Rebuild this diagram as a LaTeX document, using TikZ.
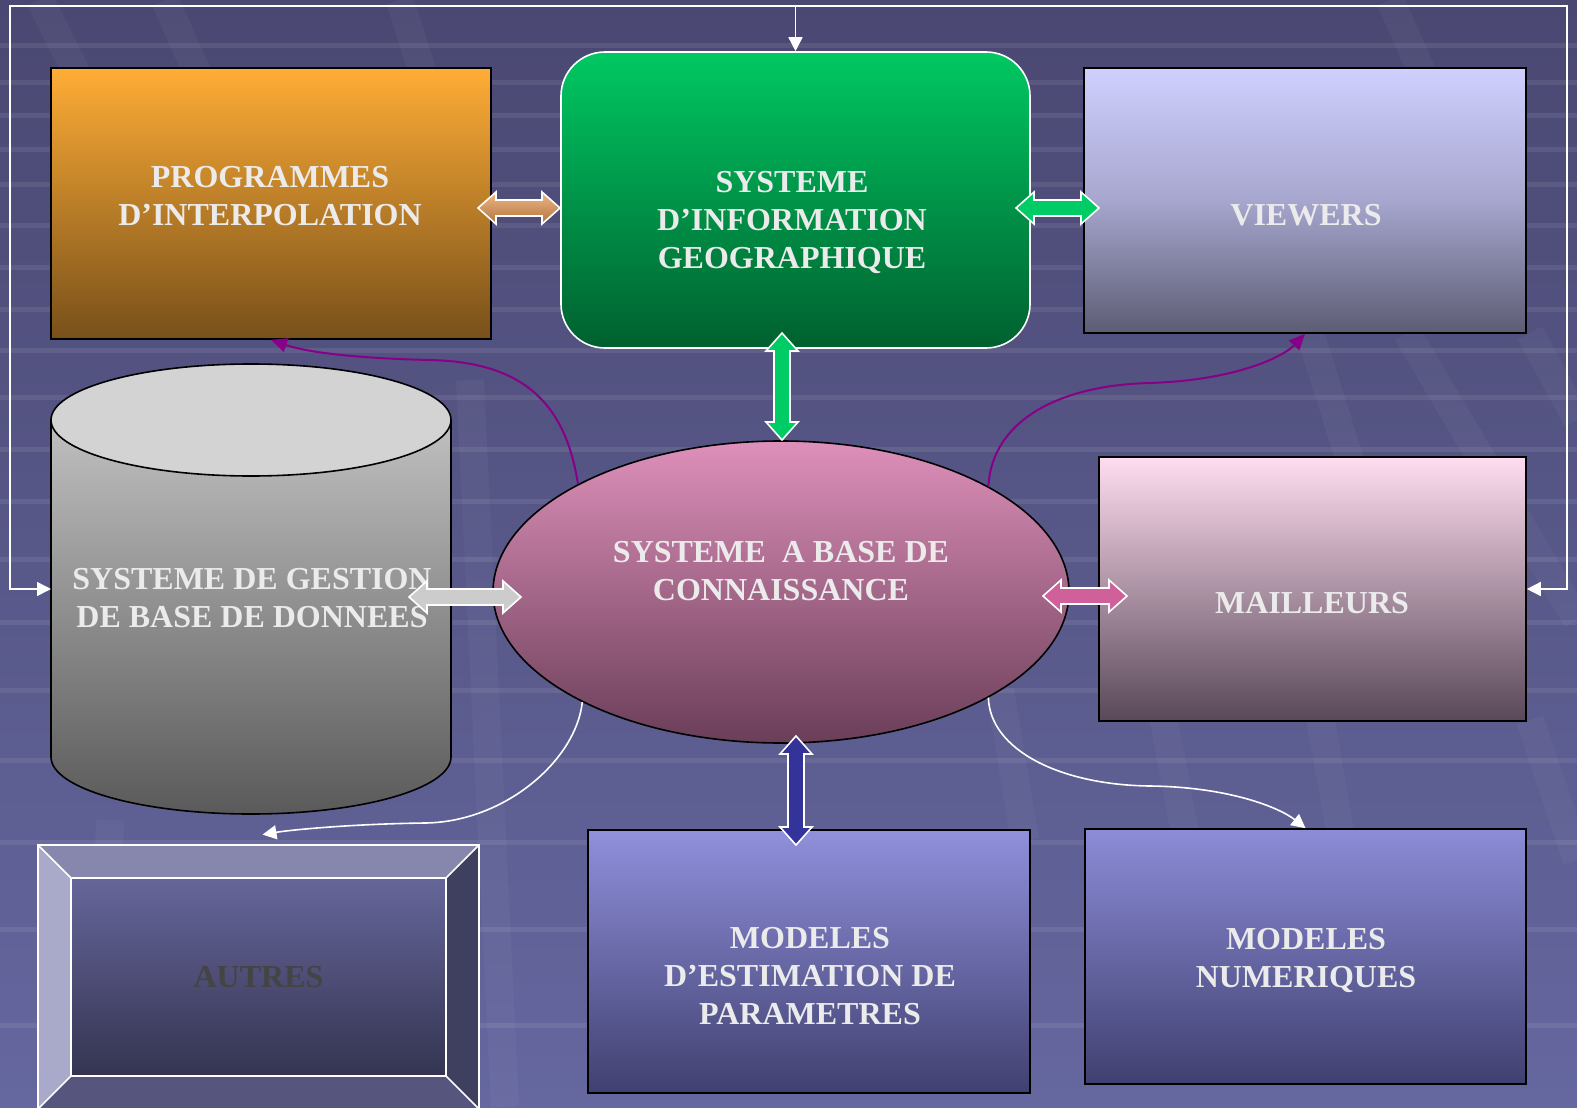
\documentclass[tikz,border=0pt]{standalone}
\usepackage{fontspec}
\setmainfont{Liberation Serif}
\usetikzlibrary{arrows.meta,shapes.geometric}
\definecolor{txt}{HTML}{EBEBEB}
\definecolor{bgtop}{HTML}{4A4872}
\definecolor{bgbot}{HTML}{65679F}
\definecolor{purp}{HTML}{880088}
\newcommand\hblk[4]{\path[#4] (#1,-#3) -- ++(18,16) -- ++(0,-8) -- ({#2-18},{-#3+8}) -- ++(0,8) -- (#2,-#3) -- ++(-18,-16) -- ++(0,8) -- ({#1+18},{-#3-8}) -- ++(0,-8) -- cycle;}
\newcommand\vblk[4]{\path[#4] (#1,-#2) -- ++(16,-18) -- ++(-8,0) -- ({#1+8},{-#3+18}) -- ++(8,0) -- (#1,-#3) -- ++(-16,18) -- ++(8,0) -- ({#1-8},{-#2-18}) -- ++(-8,0) -- cycle;}
\begin{document}
\begin{tikzpicture}[x=0.5pt,y=0.5pt,
  lbl/.style={text=txt,font=\fontsize{16}{19}\selectfont\bfseries,align=center,inner sep=0pt},
  boxn/.style={rectangle,draw=black,line width=0.8pt,inner sep=0pt},
  wline/.style={draw=white,line width=0.8pt},
  wtip/.style={-{Triangle[length=7pt,width=7pt]}},
  blk/.style={draw=white,line width=0.8pt,line join=miter},
  curvep/.style={draw=purp,line width=1pt,-{Triangle[length=8pt,width=7pt]}},
  curvew/.style={draw=white,line width=0.8pt,-{Triangle[length=7pt,width=7pt]}}]
\useasboundingbox (0,-1107) rectangle (1577,0);
\begin{scope}
\clip (0,-1107) rectangle (1577,0);
% background
\shade[top color=bgtop,bottom color=bgbot] (0,-1107) rectangle (1577,0);
\foreach \yy in {43,80,113,147,182,223,265,307,348,395,447,499,557,620,688,758,840,927,1023}
  \fill[white,opacity=0.08] (0,-\yy) rectangle (1577,{-\yy-5});
\foreach \a/\b/\c/\d in {40/0/130/180, 165/0/240/170, 400/0/425/80, 470/380/505/1107, 1390/0/1430/90, 1310/333/1400/620, 1407/333/1577/620, 1530/333/1577/420, 1000/690/1025/840, 1160/700/1190/860, 1317/700/1345/860, 1530/720/1577/860, 110/820/100/1107}
  \draw[white,opacity=0.035,line width=14pt] (\a,-\b) -- (\c,-\d);
% outer frame connector
\coordinate (lt) at (10,-6);
\coordinate (rt) at (1567,-6);
\coordinate (lb) at (10,-589);
\coordinate (rb) at (1567,-589);
\coordinate (tc) at (795.5,-6);
\coordinate (cylw) at (51,-589);
% boxes
\node[boxn,minimum width=220pt,minimum height=135.5pt,
  top color={rgb,255:red,255;green,173;blue,54},bottom color={rgb,255:red,119;green,80;blue,26}] (prog) at (271,-203.5) {};
\node[rectangle,rounded corners=22pt,draw=white,line width=0.8pt,minimum width=234.5pt,minimum height=148pt,inner sep=0pt,
  top color={rgb,255:red,0;green,200;blue,98},bottom color={rgb,255:red,0;green,96;blue,47}] (gis) at (795.5,-200) {};
\node[boxn,minimum width=221pt,minimum height=132.5pt,
  top color={rgb,255:red,208;green,208;blue,255},bottom color={rgb,255:red,92;green,92;blue,116},
  middle color={rgb,255:red,166;green,166;blue,206}] (view) at (1305,-200.5) {};
\node[boxn,minimum width=213.5pt,minimum height=132pt,
  top color={rgb,255:red,255;green,221;blue,240},bottom color={rgb,255:red,88;green,72;blue,88}] (mail) at (1312.5,-589) {};
\node[boxn,minimum width=221pt,minimum height=131.5pt,
  top color={rgb,255:red,144;green,144;blue,220},bottom color={rgb,255:red,64;green,64;blue,112}] (mest) at (809,-961.5) {};
\node[boxn,minimum width=220.5pt,minimum height=127.5pt,
  top color={rgb,255:red,140;green,140;blue,216},bottom color={rgb,255:red,64;green,64;blue,112}] (mnum) at (1305.5,-956.5) {};
% cylinder
\path[draw=black,line width=0.8pt,top color={rgb,255:red,192;green,192;blue,192},bottom color={rgb,255:red,90;green,90;blue,90}]
  (51,-420) -- (51,-757) arc[start angle=180,end angle=360,x radius=100pt,y radius=28.5pt] -- (451,-420) -- cycle;
\path[draw=black,line width=0.8pt,fill={rgb,255:red,211;green,211;blue,211}] (251,-420) ellipse[x radius=100pt,y radius=28pt];
\node[inner sep=0pt,minimum width=200pt,minimum height=225pt] (cyl) at (251,-589) {};
% ellipse
\node[ellipse,draw=black,line width=0.8pt,minimum width=288pt,minimum height=151pt,inner sep=0pt,
  top color={rgb,255:red,222;green,144;blue,186},bottom color={rgb,255:red,106;green,62;blue,88}] (sbc) at (781,-592) {};
% autres bevel
\fill[fill={rgb,255:red,135;green,135;blue,173}] (38,-845) -- (479,-845) -- (446,-878) -- (71,-878) -- cycle;
\fill[fill={rgb,255:red,169;green,169;blue,201}] (38,-845) -- (71,-878) -- (71,-1076) -- (38,-1109) -- cycle;
\fill[fill={rgb,255:red,63;green,63;blue,95}] (479,-845) -- (479,-1109) -- (446,-1076) -- (446,-878) -- cycle;
\fill[fill={rgb,255:red,85;green,85;blue,125}] (38,-1109) -- (71,-1076) -- (446,-1076) -- (479,-1109) -- cycle;
\shade[top color={rgb,255:red,102;green,102;blue,154},bottom color={rgb,255:red,52;green,52;blue,82}] (71,-1076) rectangle (446,-878);
\draw[wline] (38,-1109) rectangle (479,-845);
\draw[wline] (71,-1076) rectangle (446,-878);
\draw[wline] (38,-845) -- (71,-878) (479,-845) -- (446,-878) (38,-1109) -- (71,-1076) (479,-1109) -- (446,-1076);
\node[inner sep=0pt,minimum width=220.5pt,minimum height=132pt,text={rgb,255:red,68;green,68;blue,68},font=\fontsize{16}{19}\selectfont\bfseries] (aut) at (258.5,-977) {AUTRES};
% labels
\node[lbl] (tprog) at (270,-196) {PROGRAMMES\\D’INTERPOLATION};
\node[lbl] (tgis) at (792,-222) {SYSTEME\\D’INFORMATION\\GEOGRAPHIQUE};
\node[lbl] (tview) at (1306,-215) {VIEWERS};
\node[lbl] (tcyl) at (252,-598) {SYSTEME DE GESTION\\DE BASE DE DONNEES};
\node[lbl] (tsbc) at (781,-571) {SYSTEME~~A BASE DE\\CONNAISSANCE};
\node[lbl] (tmail) at (1312,-603) {MAILLEURS};
\node[lbl] (tmest) at (810,-976) {MODELES\\D’ESTIMATION DE\\PARAMETRES};
\node[lbl] (tmnum) at (1306,-960) {MODELES\\NUMERIQUES};
% frame connectors
\draw[wline,{Triangle[length=7pt,width=7pt]}-{Triangle[length=7pt,width=7pt]}] (cylw) -- (lb) -- (lt) -- (rt) -- (rb) -- (mail.east);
\draw[wline,wtip] (tc) -- (gis.north);
% curves
\draw[curvep] (sbc.152) .. controls (565,-400) and (520,-362) .. (430,-360) .. controls (340,-358) and (300,-350) .. (prog.south);
\draw[curvep] (sbc.27) .. controls (992,-420) and (1060,-385) .. (1150,-383) .. controls (1240,-380) and (1285,-355) .. (view.south);
\draw[curvew] (sbc.209) .. controls (576,-760) and (505,-822) .. (425,-823) .. controls (350,-824) and (290,-830) .. ([yshift=5pt,xshift=2pt]aut.north);
\draw[curvew] (sbc.333) .. controls (990,-750) and (1060,-785) .. (1150,-786) .. controls (1230,-787) and (1280,-808) .. (mnum.north);
% block arrows
\hblk{478}{560}{208}{blk,top color={rgb,255:red,240;green,184;blue,136},bottom color={rgb,255:red,176;green,116;blue,60}}
\hblk{1016}{1099}{208}{blk,fill={rgb,255:red,0;green,204;blue,102}}
\vblk{782}{333}{440}{blk,fill={rgb,255:red,0;green,204;blue,102}}
\hblk{409}{521}{597}{blk,fill={rgb,255:red,204;green,204;blue,204}}
\hblk{1043}{1127}{596}{blk,fill={rgb,255:red,208;green,96;blue,154}}
\vblk{796}{736}{845}{blk,fill={rgb,255:red,51;green,51;blue,153}}
\end{scope}
\end{tikzpicture}
\end{document}
